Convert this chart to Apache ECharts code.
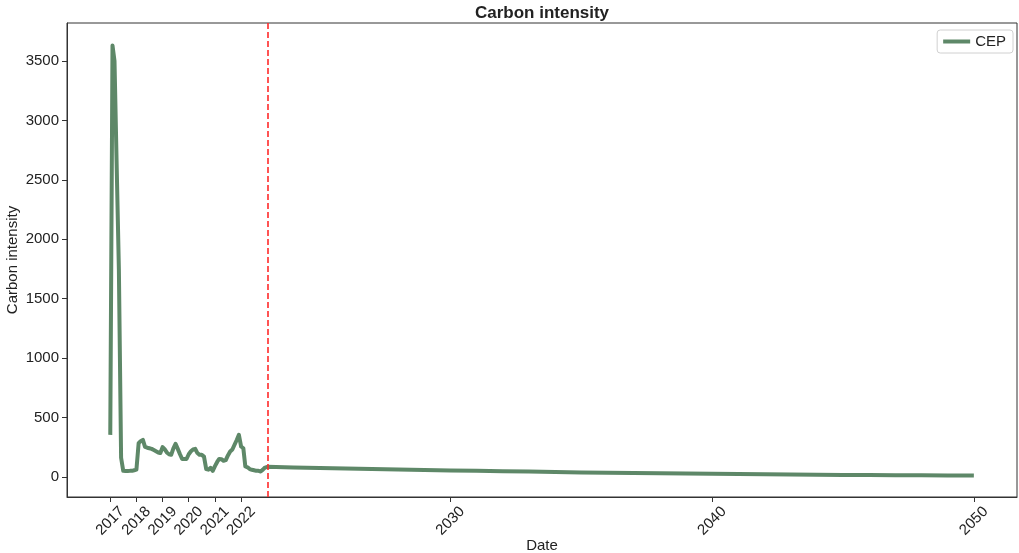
<!DOCTYPE html>
<html>
<head>
<meta charset="utf-8">
<script src="https://cdn.jsdelivr.net/npm/echarts@6/dist/echarts.min.js"></script>
<style>
  html, body { margin: 0; padding: 0; background: #fff; }
  #chart { width: 1019px; height: 553px; }
</style>
</head>
<body>
<div id="chart"></div>
<script>
// monthly history, starting 2017-01
const histStart = [2017, 0]
const histValues = [
  353, 3630, 3500, 2600, 1750, 160, 50, 48, 48, 50, 50, 55,
  60, 283, 300, 311, 252, 245, 240, 235, 225, 215, 205, 200,
  250, 230, 205, 190, 185, 240, 278, 235, 190, 150, 149, 150,
  190, 215, 230, 235, 200, 185, 185, 170, 65, 60, 76, 50,
  90, 125, 150, 148, 135, 140, 180, 213, 230, 270, 310, 353,
  255, 240, 87, 80, 65, 59, 55, 50, 50, 45, 60, 78
]
// yearly forecast
const forecastYears = [
  2023, 2024, 2025, 2026, 2027, 2028, 2029, 2030, 2031, 2032, 2033, 2034, 2035, 2036,
  2037, 2038, 2039, 2040, 2041, 2042, 2043, 2044, 2045, 2046, 2047, 2048, 2049, 2050
]
const forecastValues = [
  84, 79, 75, 70, 66, 62, 58, 54, 50, 47, 44, 40, 37, 34,
  31, 29, 27, 25, 23, 21, 19, 18, 16, 15, 14, 13, 12, 11
]
const tickYears = [2017, 2018, 2019, 2020, 2021, 2022, 2030, 2040, 2050]
const yTicks = [0, 500, 1000, 1500, 2000, 2500, 3000, 3500]
const splitDate = [2023, 0, 1]

const ts = (y, m, d) => new Date(y, m || 0, d || 1).getTime()

const points = []
histValues.forEach((v, i) => {
  points.push([ts(histStart[0], histStart[1] + i), v])
})
forecastYears.forEach((y, i) => {
  points.push([ts(y), forecastValues[i]])
})
const xTicks = tickYears.map(y => ts(y))

const font = 'Liberation Sans, Arial, sans-serif'
const chart = echarts.init(document.getElementById('chart'))
chart.setOption({
  animation: false,
  title: {
    text: 'Carbon intensity',
    left: 542,
    textAlign: 'center',
    top: 5,
    padding: 0,
    textStyle: { fontFamily: font, fontSize: 17, fontWeight: 'bold', color: '#222' }
  },
  legend: {
    data: ['CEP'],
    right: 6,
    top: 30,
    icon: 'rect',
    itemWidth: 27,
    itemHeight: 4,
    itemGap: 6,
    padding: [4, 7, 4, 6],
    borderColor: '#d0d0d0',
    borderWidth: 1,
    borderRadius: 3,
    textStyle: { fontFamily: font, fontSize: 15, color: '#222' }
  },
  grid: {
    left: 67,
    right: 2,
    top: 23,
    bottom: 56,
    outerBoundsMode: 'none',
    containLabel: false,
    show: true,
    borderColor: '#333',
    borderWidth: 1
  },
  xAxis: {
    type: 'value',
    min: ts(2015, 4, 8),
    max: ts(2051, 7, 26),
    name: 'Date',
    nameLocation: 'middle',
    nameGap: 41,
    nameMoveOverlap: false,
    nameTextStyle: { fontFamily: font, fontSize: 15, color: '#222' },
    axisLine: { show: true, onZero: false, lineStyle: { color: '#333' } },
    axisTick: {
      show: true,
      length: 5,
      lineStyle: { color: '#333' },
      customValues: xTicks
    },
    axisLabel: {
      rotate: 45,
      margin: 24,
      align: 'center',
      verticalAlign: 'middle',
      fontFamily: font,
      fontSize: 15,
      color: '#222',
      customValues: xTicks,
      formatter: v => String(new Date(v).getFullYear())
    },
    splitLine: { show: false }
  },
  yAxis: {
    type: 'value',
    min: -170,
    max: 3820,
    name: 'Carbon intensity',
    nameLocation: 'middle',
    nameGap: 47,
    nameMoveOverlap: false,
    nameTextStyle: { fontFamily: font, fontSize: 15, color: '#222' },
    axisLine: { show: true, onZero: false, lineStyle: { color: '#333' } },
    axisTick: {
      show: true,
      length: 5,
      lineStyle: { color: '#333' },
      customValues: yTicks
    },
    axisLabel: {
      margin: 8,
      fontFamily: font,
      fontSize: 15,
      color: '#222',
      customValues: yTicks,
      formatter: v => String(v)
    },
    splitLine: { show: false }
  },
  series: [{
    name: 'CEP',
    type: 'line',
    data: points,
    showSymbol: false,
    symbol: 'none',
    color: '#5e8868',
    lineStyle: { color: '#5e8868', width: 4, join: 'round' },
    markLine: {
      silent: true,
      symbol: 'none',
      label: { show: false },
      lineStyle: { color: '#ff2a2a', type: [6, 3], width: 1.6 },
      data: [{ xAxis: ts(splitDate[0], splitDate[1], splitDate[2]) }]
    }
  }]
})
</script>
</body>
</html>
